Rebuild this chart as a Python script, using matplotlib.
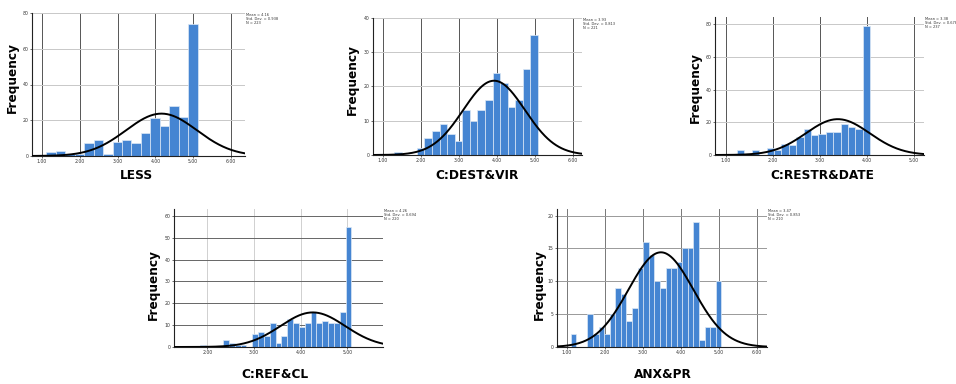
import numpy as np
import matplotlib
matplotlib.use("Agg")
import matplotlib.pyplot as plt

# histogram counts (frequency per bin)
less_counts = [2, 3, 1, 1, 7, 9, 1, 8, 9, 7, 13, 21, 17, 28, 22, 74]
dest_counts = [1, 0, 0, 2, 5, 7, 9, 6, 4, 13, 10, 13, 16, 24, 21, 14, 16, 25, 35]
restr_counts = [3, 0, 3, 0, 4, 3, 7, 6, 11, 16, 12, 13, 14, 14, 19, 17, 16, 79]
ref_counts = [1, 0, 0, 0, 3, 2, 1, 1, 0, 6, 7, 5, 11, 2, 5, 13, 11, 9, 11, 16,
              11, 12, 11, 11, 16, 55]
anx_counts = [2, 0, 0, 5, 2, 3, 2, 5, 9, 8, 4, 6, 12, 16, 14, 10, 9, 12, 12, 13,
              15, 15, 19, 1, 3, 3, 10]

# first bin edge and bin width of each histogram
less_bins = (1.115, 0.25)
dest_bins = (1.29, 0.20)
restr_bins = (1.241, 0.157)
ref_bins = (1.836, 0.125)
anx_bins = (1.097, 0.1467)

# normal curve parameters (mean, std. dev.)
less_stats = (4.16, 0.938)
dest_stats = (3.93, 0.813)
restr_stats = (3.38, 0.678)
ref_stats = (4.26, 0.694)
anx_stats = (3.47, 0.853)

names = ["LESS", "C:DEST&VIR", "C:RESTR&DATE", "C:REF&CL", "ANX&PR"]
x_ticks = [[1, 2, 3, 4, 5, 6], [1, 2, 3, 4, 5, 6], [1, 2, 3, 4, 5],
           [2, 3, 4, 5], [1, 2, 3, 4, 5, 6]]
y_ticks = [[0, 20, 40, 60, 80], [0, 10, 20, 30, 40], [0, 20, 40, 60, 80],
           [0, 10, 20, 30, 40, 50, 60], [0, 5, 10, 15, 20]]

W, H = 956, 384
fig = plt.figure(figsize=(W / 100, H / 100), dpi=100)

# pixel layout: axes box, x/y limits, label positions
panels = [
    dict(counts=less_counts, bins=less_bins, st=less_stats, box=(32, 245, 13, 156),
         xlim=(0.735, 6.37), ylim=(0, 80), ylab=(12, 78), xlab=(136, 175),
         vg="#555555", hg="#c8c8c8"),
    dict(counts=dest_counts, bins=dest_bins, st=dest_stats, box=(373, 582, 18, 155),
         xlim=(0.735, 6.25), ylim=(0, 40), ylab=(352, 80), xlab=(477, 175),
         vg="#555555", hg="#c8c8c8"),
    dict(counts=restr_counts, bins=restr_bins, st=restr_stats, box=(715, 924, 17, 155),
         xlim=(0.773, 5.21), ylim=(0, 84.3), ylab=(695, 88), xlab=(822, 175),
         vg="#555555", hg="#c8c8c8"),
    dict(counts=ref_counts, bins=ref_bins, st=ref_stats, box=(174, 383, 209, 347),
         xlim=(1.286, 5.764), ylim=(0, 63.1), ylab=(153, 285), xlab=(275, 375),
         vg="#d0d0d0", hg="#666666"),
    dict(counts=anx_counts, bins=anx_bins, st=anx_stats, box=(557, 767, 209, 347),
         xlim=(0.736, 6.26), ylim=(0, 21.0), ylab=(539, 285), xlab=(663, 375),
         vg="#777777", hg="#999999"),
]

for i, p in enumerate(panels):
    l, r, t, b = p["box"]
    ax = fig.add_axes([l / W, 1 - b / H, (r - l) / W, (b - t) / H])
    start, bw = p["bins"]
    counts = np.array(p["counts"])
    edges = start + bw * np.arange(len(counts))
    ax.bar(edges, counts, width=bw, align="edge", color="#4585d2",
           edgecolor="#dce8f6", linewidth=0.5, zorder=2)

    mean, sd = p["st"]
    n = counts.sum()
    xs = np.linspace(p["xlim"][0], p["xlim"][1], 300)
    ys = n * bw / (sd * np.sqrt(2 * np.pi)) * np.exp(-0.5 * ((xs - mean) / sd) ** 2)
    ax.plot(xs, ys, color="black", lw=1.4, zorder=3)

    ax.set_xlim(*p["xlim"])
    ax.set_ylim(*p["ylim"])
    ax.set_xticks(x_ticks[i])
    ax.set_xticklabels([f"{v:.2f}" for v in x_ticks[i]])
    ax.set_yticks(y_ticks[i])
    ax.tick_params(labelsize=3.3, length=1.2, width=0.5, pad=1.2, colors="#333333")
    for v in x_ticks[i]:
        ax.axvline(v, color=p["vg"], lw=0.7, zorder=1)
    for v in y_ticks[i][1:]:
        ax.axhline(v, color=p["hg"], lw=0.7, zorder=1)
    for s in ["top", "right"]:
        ax.spines[s].set_visible(False)
    for s in ["left", "bottom"]:
        ax.spines[s].set_linewidth(0.8)
        ax.spines[s].set_color("#222222")

    ax.text(1.005, 1.0, f"Mean = {mean:.2f}\nStd. Dev. = {sd:.3f}\nN = {n}",
            transform=ax.transAxes, fontsize=2.6, va="top", ha="left",
            color="#333333", linespacing=1.0)

    fig.text(p["ylab"][0] / W, 1 - p["ylab"][1] / H, "Frequency", rotation=90,
             fontsize=8.7, fontweight="semibold", ha="center", va="center")
    fig.text(p["xlab"][0] / W, 1 - p["xlab"][1] / H, names[i],
             fontsize=8.7, fontweight="semibold", ha="center", va="center")

fig.savefig("out.png", dpi=100)
